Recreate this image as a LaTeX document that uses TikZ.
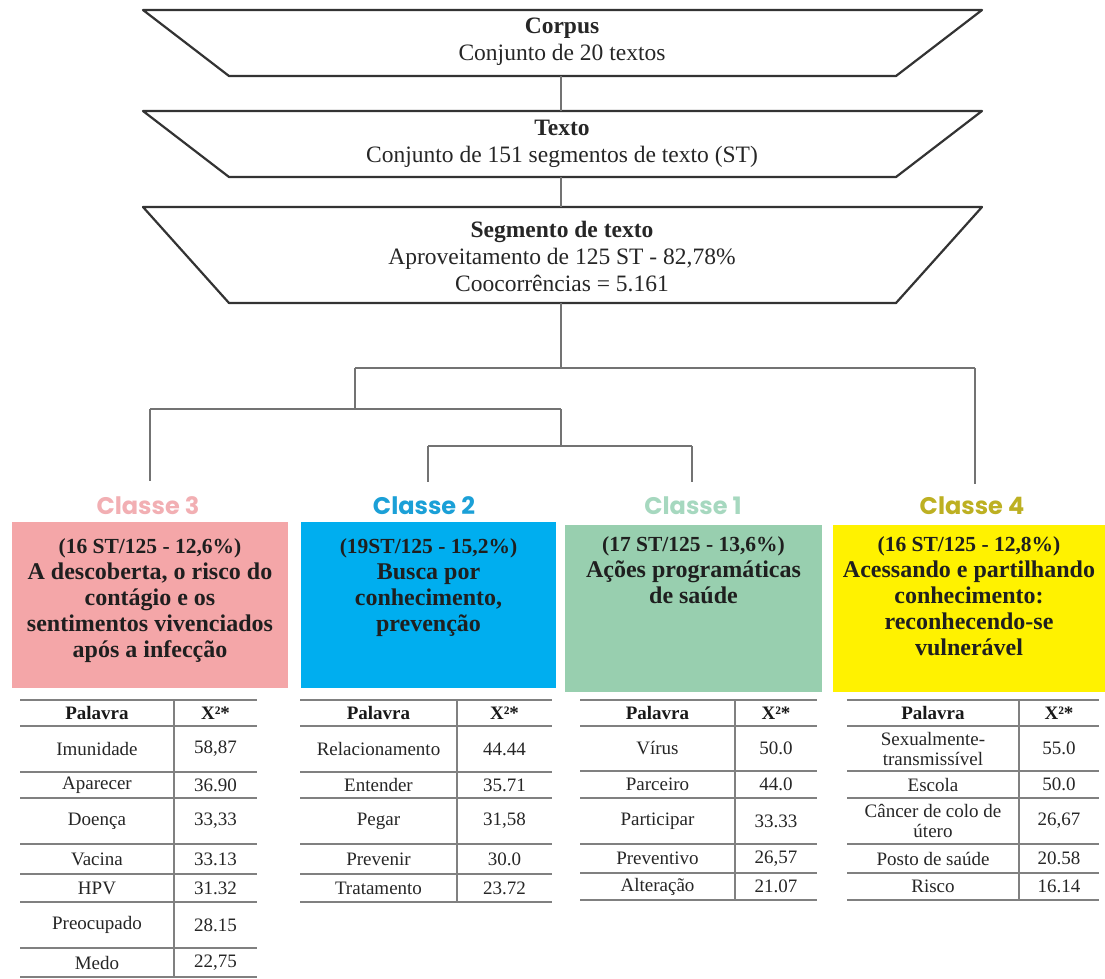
\documentclass[tikz,border=0pt]{standalone}
\usepackage{fontspec}
\setmainfont{Liberation Serif}
\newfontfamily\titlefont{Poppins}
\definecolor{pinkbox}{HTML}{F4A6A8}
\definecolor{bluebox}{HTML}{00AEEF}
\definecolor{greenbox}{HTML}{98CFAF}
\definecolor{yellowbox}{HTML}{FFF200}
\definecolor{pinkt}{HTML}{F2AFB3}
\definecolor{bluet}{HTML}{1BA0D7}
\definecolor{greent}{HTML}{A6D8BF}
\definecolor{yellowt}{HTML}{BDB022}
\begin{document}
\begin{tikzpicture}[x=1pt,y=-1pt,
  trap/.style={draw=black!80, line width=2.2pt, line join=round},
  traptxt/.style={align=center, inner sep=0pt, font=\fontsize{23.5}{27}\selectfont, text=black!85},
  link/.style={draw=black!55, line width=1.3pt},
  clt/.style={font=\titlefont\bfseries\fontsize{24}{26}\selectfont, inner sep=0pt},
  cbox/.style={anchor=north west, inner sep=0pt, draw=none},
  ctxt/.style={anchor=north, align=center, inner sep=0pt, font=\bfseries\fontsize{24}{26}\selectfont, text=black!88},
  rule/.style={draw=black!50, line width=1.4pt},
  cell/.style={align=center, inner sep=0pt, font=\fontsize{19}{20}\selectfont, text=black!85},
  hcell/.style={align=center, inner sep=0pt, font=\bfseries\fontsize{19}{20}\selectfont, text=black!90}
]
\fill[white] (0,0) rectangle (1105,978);
\useasboundingbox (0,0) rectangle (1105,978);

% trapezoids
\draw[trap] (143,10) -- (982,10) -- (896,76) -- (229,76) -- cycle;
\draw[trap] (143,111) -- (982,111) -- (896,177) -- (229,177) -- cycle;
\draw[trap] (143,207) -- (982,207) -- (896,303) -- (229,303) -- cycle;
\node[traptxt] (corpus) at (562,42) {\textbf{Corpus}\\Conjunto de 20 textos};
\node[traptxt] (texto) at (562,144) {\textbf{Texto}\\Conjunto de 151 segmentos de texto (ST)};
\node[traptxt] (segm) at (562,257) {\textbf{Segmento de texto}\\Aproveitamento de 125 ST - 82,78\%\\Coocorrências = 5.161};

\coordinate (t1b) at (561,76);
\coordinate (t2t) at (561,111);
\coordinate (t2b) at (561,177);
\coordinate (t3t) at (561,207);
\coordinate (t3b) at (561,303);
\draw[link] (t1b) -- (t2t);
\draw[link] (t2b) -- (t3t);

% class titles
\node[clt, text=pinkt] (cl3) at (148,506) {Classe 3};
\node[clt, text=bluet] (cl2) at (424,506) {Classe 2};
\node[clt, text=greent] (cl1) at (693,506) {Classe 1};
\node[clt, text=yellowt] (cl4) at (972,506) {Classe 4};

% dendrogram
\coordinate (j1) at (561,368);
\coordinate (j1l) at (355,368);
\coordinate (j1r) at (975,368);
\coordinate (j2) at (355,409);
\coordinate (j2l) at (150,409);
\coordinate (j2r) at (561,409);
\coordinate (j3) at (561,446);
\coordinate (j3l) at (428,446);
\coordinate (j3r) at (692,446);
\coordinate (e3) at (150,481);
\coordinate (e2) at (428,482);
\coordinate (e1) at (692,482);
\coordinate (e4) at (975,484);
\draw[link] (t3b) -- (j1);
\draw[link] (j1l) -- (j1r);
\draw[link] (j1r) -- (e4);
\draw[link] (j1l) -- (j2);
\draw[link] (j2l) -- (j2r);
\draw[link] (j2l) -- (e3);
\draw[link] (j2r) -- (j3);
\draw[link] (j3l) -- (j3r);
\draw[link] (j3l) -- (e2);
\draw[link] (j3r) -- (e1);

% class boxes
\node[cbox, fill=pinkbox, minimum width=276pt, minimum height=166pt] (b3) at (12,522) {};
\node[cbox, fill=bluebox, minimum width=255pt, minimum height=166pt] (b2) at (301,522) {};
\node[cbox, fill=greenbox, minimum width=257pt, minimum height=167pt] (b1) at (565,525) {};
\node[cbox, fill=yellowbox, minimum width=272pt, minimum height=167pt] (b4) at (833,525) {};

\node[ctxt] (b3t) at (150,538) {{\fontsize{21.5}{26}\selectfont (16 ST/125 - 12,6\%)}\\A descoberta, o risco do\\contágio e os\\sentimentos vivenciados\\após a infecção};
\node[ctxt] (b2t) at (428.5,538) {{\fontsize{21.5}{26}\selectfont (19ST/125 - 15,2\%)}\\Busca por\\conhecimento,\\prevenção};
\node[ctxt] (b1t) at (693.5,536) {{\fontsize{21.5}{26}\selectfont (17 ST/125 - 13,6\%)}\\Ações programáticas\\de saúde};
\node[ctxt] (b4t) at (969,536) {{\fontsize{21.5}{26}\selectfont (16 ST/125 - 12,8\%)}\\Acessando e partilhando\\conhecimento:\\reconhecendo-se\\vulnerável};

% table classe 3
\draw[rule] (20,700) -- (257,700);
\draw[rule] (20,726) -- (257,726);
\draw[rule] (174,700) -- (174,977);
\node[hcell] (t3h1) at (97,713) {Palavra};
\node[hcell] (t3h2) at (215.5,713) {X²*};
\foreach[count=\i] \w/\v/\a/\b in {Imunidade/{58,87}/726/772, Aparecer/36.90/772/798, Doença/{33,33}/798/844, Vacina/33.13/844/874, HPV/31.32/874/902, Preocupado/28.15/902/948, Medo/{22,75}/948/977}{
  \node[cell] (t3w\i) at (97,{(\a+\b)/2}) {\w};
  \node[cell] (t3v\i) at (215.5,{(\a+\b)/2}) {\v};
  \draw[rule] (20,\b) -- (257,\b);
}

% table classe 2
\draw[rule] (300,700) -- (552,700);
\draw[rule] (300,726) -- (552,726);
\draw[rule] (457,700) -- (457,902);
\node[hcell] (t2h1) at (378.5,713) {Palavra};
\node[hcell] (t2h2) at (504.5,713) {X²*};
\foreach[count=\i] \w/\v/\a/\b in {Relacionamento/44.44/726/772, Entender/35.71/772/798, Pegar/{31,58}/798/844, Prevenir/30.0/844/874, Tratamento/23.72/874/902}{
  \node[cell] (t2w\i) at (378.5,{(\a+\b)/2}) {\w};
  \node[cell] (t2v\i) at (504.5,{(\a+\b)/2}) {\v};
  \draw[rule] (300,\b) -- (552,\b);
}

% table classe 1
\draw[rule] (580,700) -- (817,700);
\draw[rule] (580,726) -- (817,726);
\draw[rule] (735,700) -- (735,900);
\node[hcell] (t1h1) at (657.5,713) {Palavra};
\node[hcell] (t1h2) at (776,713) {X²*};
\foreach[count=\i] \w/\v/\a/\b in {Vírus/50.0/726/771, Parceiro/44.0/771/798, Participar/33.33/798/844, Preventivo/{26,57}/844/873, Alteração/21.07/873/900}{
  \node[cell] (t1w\i) at (657.5,{(\a+\b)/2}) {\w};
  \node[cell] (t1v\i) at (776,{(\a+\b)/2}) {\v};
  \draw[rule] (580,\b) -- (817,\b);
}

% table classe 4
\draw[rule] (847,700) -- (1099,700);
\draw[rule] (847,726) -- (1099,726);
\draw[rule] (1019,700) -- (1019,900);
\node[hcell] (t4h1) at (933,713) {Palavra};
\node[hcell] (t4h2) at (1059,713) {X²*};
\foreach[count=\i] \w/\v/\a/\b in {{Sexualmente-\\transmissível}/55.0/726/771, Escola/50.0/771/798, {Câncer de colo de\\útero}/{26,67}/798/844, Posto de saúde/20.58/844/873, Risco/16.14/873/900}{
  \node[cell] (t4w\i) at (933,{(\a+\b)/2}) {\w};
  \node[cell] (t4v\i) at (1059,{(\a+\b)/2}) {\v};
  \draw[rule] (847,\b) -- (1099,\b);
}
\end{tikzpicture}
\end{document}
